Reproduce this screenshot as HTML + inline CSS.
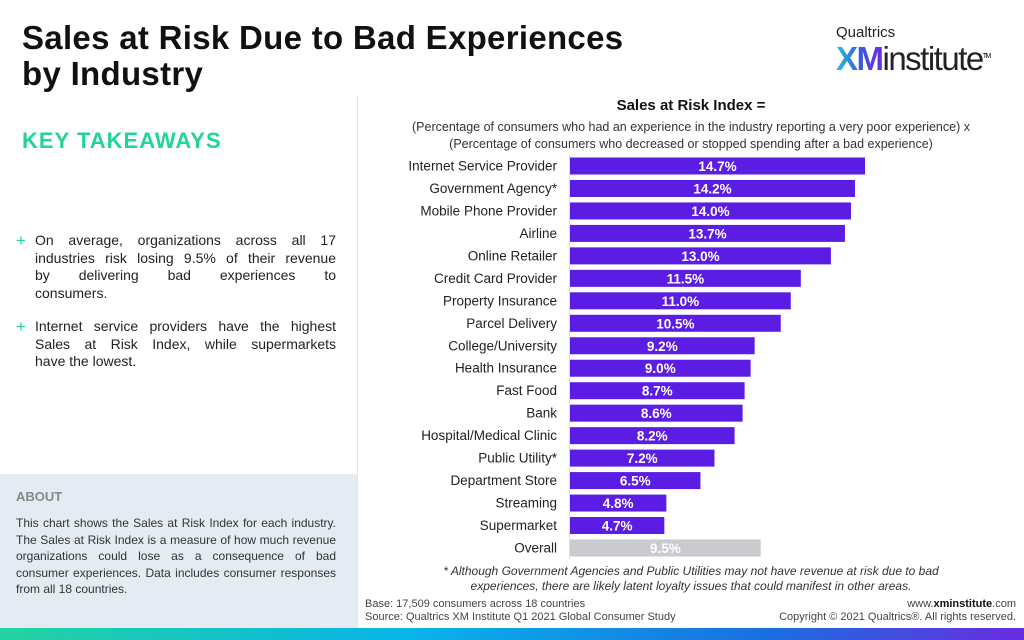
<!DOCTYPE html>
<html><head><meta charset="utf-8"><style>
body{margin:0;width:1024px;height:640px;position:relative;background:#fff;font-family:"Liberation Sans",sans-serif;overflow:hidden}
.a{position:absolute}
.j{text-align:justify;text-align-last:justify}
</style></head><body>
<div class="a" style="left:22px;top:20px;font-size:33px;font-weight:bold;line-height:36px;color:#111;letter-spacing:0.3px">Sales at Risk Due to Bad Experiences<br>by Industry</div>
<div class="a" style="left:836px;top:24px;width:180px">
<div style="font-size:15px;color:#222">Qualtrics</div>
<div style="font-size:33px;line-height:32px;letter-spacing:-1.5px"><span style="font-weight:bold;background:linear-gradient(90deg,#21c4d8,#3a5be0,#6a2be0);-webkit-background-clip:text;color:transparent">XM</span><span style="color:#222">institute</span><sup style="font-size:7px">TM</sup></div></div>
<div class="a" style="left:22px;top:128px;font-size:22px;font-weight:bold;color:#21d49a;letter-spacing:1px">KEY TAKEAWAYS</div>
<div class="a" style="left:16px;top:232px;width:320px;font-size:14px;line-height:17.5px;color:#222">
<div style="position:relative;padding-left:19px;margin-bottom:16px"><span style="position:absolute;left:0;color:#21d49a;font-size:17px">+</span><div class="j">On average, organizations across all 17</div><div class="j">industries risk losing 9.5% of their revenue</div><div class="j">by delivering bad experiences to</div><div>consumers.</div></div>
<div style="position:relative;padding-left:19px"><span style="position:absolute;left:0;color:#21d49a;font-size:17px">+</span><div class="j">Internet service providers have the highest</div><div class="j">Sales at Risk Index, while supermarkets</div><div>have the lowest.</div></div></div>
<div class="a" style="left:0;top:474px;width:357px;height:154px;background:#e4ebf3"></div>
<div class="a" style="left:16px;top:489px;font-size:13px;font-weight:bold;color:#888">ABOUT</div>
<div class="a" style="left:16px;top:515px;width:320px;font-size:12px;line-height:16.5px;color:#333;text-align:justify">This chart shows the Sales at Risk Index for each industry. The Sales at Risk Index is a measure of how much revenue organizations could lose as a consequence of bad consumer experiences. Data includes consumer responses from all 18 countries.</div>
<div class="a" style="left:357px;top:95px;width:1px;height:533px;background:#e6e6e6"></div>
<div class="a" style="left:358px;top:97px;width:666px;text-align:center;font-size:15px;font-weight:bold;color:#111">Sales at Risk Index =</div>
<div class="a" style="left:358px;top:119px;width:666px;text-align:center;font-size:12.5px;line-height:17px;color:#333">(Percentage of consumers who had an experience in the industry reporting a very poor experience) x<br>(Percentage of consumers who decreased or stopped spending after a bad experience)</div>
<svg class="a" style="left:0;top:0" width="1024" height="640" id="chart"></svg>
<div class="a" style="left:358px;top:564px;width:666px;text-align:center;font-size:12px;font-style:italic;line-height:15px;color:#333">* Although Government Agencies and Public Utilities may not have revenue at risk due to bad<br>experiences, there are likely latent loyalty issues that could manifest in other areas.</div>
<div class="a" style="left:365px;top:598px;font-size:11px;line-height:13px;color:#444">Base: 17,509 consumers across 18 countries<br>Source: Qualtrics XM Institute Q1 2021 Global Consumer Study</div>
<div class="a" style="right:8px;top:598px;font-size:11px;line-height:13px;color:#444;text-align:right">www.<b style="color:#111">xminstitute</b>.com<br>Copyright © 2021 Qualtrics®. All rights reserved.</div>
<div class="a" style="left:0;top:628px;width:1024px;height:12px;background:linear-gradient(90deg,#22d3a0,#08b4ea 40%,#1a6fe0 75%,#6a2be0)"></div>
<script>
const categories=["Internet Service Provider","Government Agency*","Mobile Phone Provider","Airline","Online Retailer","Credit Card Provider","Property Insurance","Parcel Delivery","College/University","Health Insurance","Fast Food","Bank","Hospital/Medical Clinic","Public Utility*","Department Store","Streaming","Supermarket","Overall"];
const values=[14.7,14.2,14.0,13.7,13.0,11.5,11.0,10.5,9.2,9.0,8.7,8.6,8.2,7.2,6.5,4.8,4.7,9.5];
const ns="http://www.w3.org/2000/svg";
const svg=document.getElementById('chart');
const x0=570,pxPer=20.07,y0=166,step=22.47,bh=17;
const xs=v=>v*pxPer, ys=i=>y0+i*step;
function mk(t,a){const e=document.createElementNS(ns,t);for(const k in a)e.setAttribute(k,a[k]);svg.appendChild(e);return e;}
const ax=mk('line',{x1:x0-0.5,x2:x0-0.5,y1:ys(0)-11,y2:ys(categories.length-1)+11,stroke:'#ddd'});


categories.forEach((c,i)=>{
 const last=i===categories.length-1;
 const r=mk('rect',{x:x0,y:ys(i)-bh/2,width:xs(values[i]),height:bh,fill:last?'#c9cbce':'#5b1de3'});
 
 
 const l=mk('text',{x:557,y:ys(i)+4.5,'text-anchor':'end','font-size':13.5,fill:'#222'});
 l.textContent=c;
 
 
 const v=mk('text',{x:x0+xs(values[i])/2,y:ys(i)+5,'text-anchor':'middle','font-size':13.5,'font-weight':'bold',fill:'#fff'});
 v.textContent=values[i].toFixed(1)+'%';
 
 
});
</script>
</body></html>
